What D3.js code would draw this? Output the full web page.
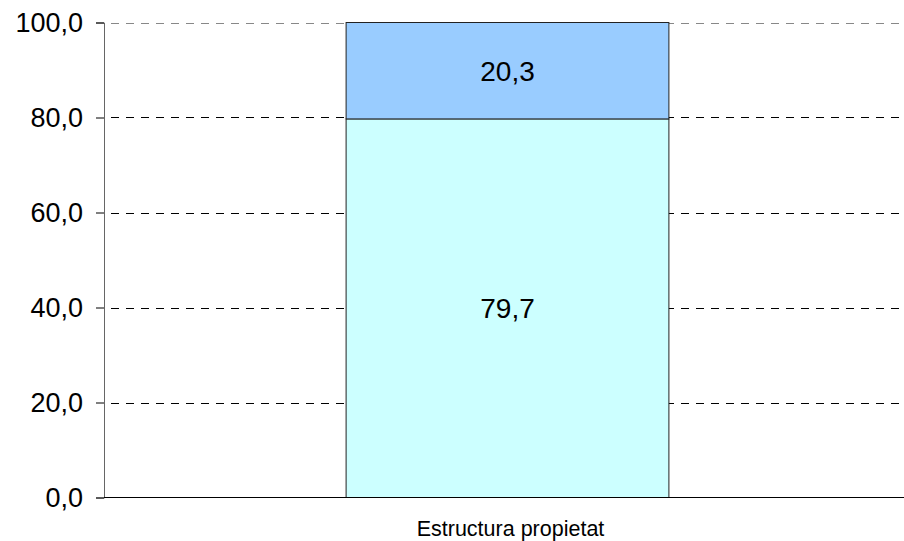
<!DOCTYPE html>
<html>
<head>
<meta charset="utf-8">
<script src="https://cdn.jsdelivr.net/npm/d3@7"></script>
<style>
  body { margin: 0; background: #fff; }
  text { font-family: "Liberation Sans", Arial, sans-serif; }
</style>
</head>
<body>
<div id="graf"></div>
<script>
// dades
var categories = ["Estructura propietat"]
var serie1 = [79.7]   // part inferior
var serie2 = [20.3]   // part superior
var yTicks = [0, 20, 40, 60, 80, 100]
var colors = ["#CCFFFF", "#99CCFF"]

function render(){

var W = 904, H = 541
var left = 104, right = 911, top = 22.5, bottom = 497.5

var svg = d3.select('#graf')
            .append('svg')
            .attr('width', W)
            .attr('height', H)

var x = d3.scaleBand()
          .domain(categories)
          .range([left, right])
          .paddingInner(0.6)
          .paddingOuter(0.3)

var y = d3.scaleLinear()
          .domain([0, 100])
          .range([bottom, top])

// linies de graella discontinues
svg.append("g")
  .selectAll("line")
  .data(yTicks.filter(d => d > 0))
  .join("line")
  .attr("x1", left)
  .attr("x2", W)
  .attr("y1", d => Math.round(y(d)) + 0.5)
  .attr("y2", d => Math.round(y(d)) + 0.5)
  .attr("stroke", (d) => d == 100 ? "#888" : "#000")
  .attr("stroke-dasharray", "8,7")
  .attr("stroke-dashoffset", 8)

// barres apilades
var stack = categories.map((c, i) => [
  {cat: c, y0: 0, y1: serie1[i], v: serie1[i], color: colors[0]},
  {cat: c, y0: serie1[i], y1: serie1[i] + serie2[i], v: serie2[i], color: colors[1]}
]).flat()

svg.append("g")
  .selectAll("rect")
  .data(stack)
  .join("rect")
  .attr("x", d => x(d.cat))
  .attr("y", d => y(d.y1))
  .attr("width", x.bandwidth())
  .attr("height", d => y(d.y0) - y(d.y1))
  .attr("fill", d => d.color)
  .attr("stroke", "#222")
  .attr("stroke-width", 1)

svg.append("g")
  .selectAll("text")
  .data(stack)
  .join("text")
  .attr("x", d => x(d.cat) + x.bandwidth() / 2)
  .attr("y", d => y((d.y0 + d.y1) / 2))
  .attr("dy", "0.35em")
  .attr("text-anchor", "middle")
  .attr("font-size", 28)
  .attr("fill", "#000")
  .text(d => d3.format(".1f")(d.v).replace(".", ","))

// eix Y
var yAxis = svg.append("g")
  .attr("transform", "translate(" + left + ",0)")
  .call(d3.axisLeft(y).tickValues(yTicks).tickSize(8).tickPadding(13)
        .tickFormat(d => d3.format(".1f")(d).replace(".", ",")))
yAxis.select(".domain").attr("stroke", "#666")
yAxis.selectAll(".tick line").attr("stroke", "#000")
yAxis.selectAll("text").attr("font-size", 27).attr("fill", "#000")
  .style("font-family", "'Liberation Sans', Arial, sans-serif")

// eix X
svg.append("line")
  .attr("x1", left).attr("x2", W)
  .attr("y1", bottom).attr("y2", bottom)
  .attr("stroke", "#000")

svg.append("g")
  .selectAll("text.cat")
  .data(categories)
  .join("text")
  .attr("class", "cat")
  .attr("x", d => x(d) + x.bandwidth() / 2 + 3)
  .attr("y", 536)
  .attr("text-anchor", "middle")
  .attr("font-size", 21.5)
  .attr("fill", "#000")
  .text(d => d)
}

render()
</script>
</body>
</html>
